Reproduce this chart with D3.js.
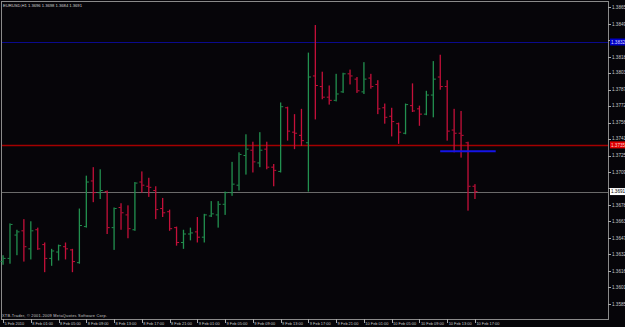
<!DOCTYPE html>
<html>
<head>
<meta charset="utf-8">
<script src="https://cdn.jsdelivr.net/npm/d3@7"></script>
<style>
body { margin: 0; background: #000; }
svg { display: block; }
text { font-family: Arial, "Liberation Sans", sans-serif; }
</style>
</head>
<body>
<script>
var symbol = "EURUSD,H1";

var open  = [1.3625,1.3628,1.3650,1.3654,1.3637,1.3655,1.3641,1.3628,1.3634,1.3639,1.3636,1.3624,1.3658,1.3701,1.3690,1.3691,1.3657,1.3676,1.3669,1.3655,1.3700,1.3696,1.3692,1.3675,1.3672,1.3657,1.3643,1.3651,1.3653,1.3648,1.3668,1.3669,1.3679,1.3690,1.3697,1.3725,1.3730,1.3718,1.3731,1.3714,1.3710,1.3770,1.3747,1.3744,1.3737,1.3800,1.3790,1.3780,1.3777,1.3785,1.3802,1.3797,1.3785,1.3798,1.3792,1.3770,1.3762,1.3755,1.3746,1.3772,1.3769,1.3764,1.3782,1.3799,1.3790,1.3749,1.3746,1.3737,1.3696];
var high  = [1.3631,1.3661,1.3655,1.3665,1.3663,1.3657,1.3643,1.3637,1.3641,1.3643,1.3637,1.3675,1.3706,1.3714,1.3712,1.3692,1.3676,1.3680,1.3678,1.3700,1.3710,1.3704,1.3696,1.3685,1.3674,1.3658,1.3655,1.3657,1.3667,1.3670,1.3682,1.3682,1.3691,1.3719,1.3728,1.3745,1.3738,1.3747,1.3738,1.3717,1.3775,1.3771,1.3764,1.3769,1.3822,1.3848,1.3804,1.3791,1.3802,1.3803,1.3806,1.3799,1.3813,1.3802,1.3796,1.3774,1.3770,1.3756,1.3774,1.3793,1.3772,1.3786,1.3814,1.3820,1.3796,1.3769,1.3767,1.3738,1.3698];
var low   = [1.3622,1.3623,1.3631,1.3625,1.3627,1.3636,1.3615,1.3621,1.3626,1.3627,1.3615,1.3623,1.3657,1.3681,1.3684,1.3651,1.3636,1.3655,1.3647,1.3654,1.3690,1.3686,1.3665,1.3667,1.3654,1.3640,1.3637,1.3645,1.3643,1.3643,1.3667,1.3657,1.3669,1.3687,1.3692,1.3707,1.3709,1.3714,1.3712,1.3696,1.3709,1.3739,1.3731,1.3734,1.3691,1.3759,1.3778,1.3773,1.3776,1.3784,1.3792,1.3784,1.3783,1.3788,1.3764,1.3755,1.3743,1.3736,1.3745,1.3766,1.3753,1.3763,1.3761,1.3787,1.3739,1.3728,1.3723,1.3673,1.3684];
var close = [1.3628,1.3660,1.3653,1.3639,1.3654,1.3637,1.3628,1.3635,1.3640,1.3637,1.3625,1.3659,1.3700,1.3690,1.3692,1.3657,1.3675,1.3671,1.3656,1.3699,1.3697,1.3695,1.3674,1.3671,1.3656,1.3643,1.3651,1.3652,1.3648,1.3669,1.3670,1.3679,1.3690,1.3698,1.3726,1.3731,1.3719,1.3730,1.3714,1.3711,1.3771,1.3748,1.3746,1.3739,1.3799,1.3791,1.3780,1.3777,1.3783,1.3802,1.3800,1.3786,1.3797,1.3790,1.3769,1.3761,1.3757,1.3747,1.3773,1.3767,1.3764,1.3782,1.3797,1.3790,1.3748,1.3746,1.3744,1.3696,1.3691];

var timeLabels = ["5 Feb 2010","8 Feb 01:00","8 Feb 05:00","8 Feb 09:00","8 Feb 13:00","8 Feb 17:00",
  "8 Feb 21:00","9 Feb 01:00","9 Feb 05:00","9 Feb 09:00","9 Feb 13:00","9 Feb 17:00",
  "9 Feb 21:00","10 Feb 01:00","10 Feb 05:00","10 Feb 09:00","10 Feb 13:00","10 Feb 17:00"];

var priceTicks = ["1.3865","1.3849","1.3834","1.3818","1.3803","1.3787","1.3772","1.3756","1.3741",
  "1.3725","1.3709","1.3694","1.3678","1.3663","1.3647","1.3632","1.3616","1.3601","1.3585"];

// horizontal levels
var levels = [1.3832, 1.3735];
var levelColors = ["#0a0a8c", "#a30000"];
var segPrice = 1.3729, segFrom = 63, segTo = 71;

var data = open.map(function(o, i) {
  return {i: i, o: o, h: high[i], l: low[i], c: close[i]};
});
var last = data[data.length - 1];

var W = 625, H = 327,
    plot = {left: 1, top: 1, right: 608, bottom: 319};

var svg = d3.select("body").append("svg")
    .attr("width", W)
    .attr("height", H)
    .style("background", "#060509");

var x = d3.scaleLinear().domain([0, 68]).range([3, 474.9]);
var y = d3.scaleLinear().domain([1.3585, 1.3865]).range([304, 7]);

// frame
svg.append("rect")
    .attr("x", plot.left + 0.5).attr("y", plot.top + 0.5)
    .attr("width", plot.right - plot.left).attr("height", plot.bottom - plot.top)
    .attr("fill", "none").attr("stroke", "#8a8a8a").attr("stroke-width", 1);

// level lines
svg.selectAll(".level")
    .data(levels)
    .enter().append("line")
    .attr("class", "level")
    .attr("x1", plot.left + 1).attr("x2", plot.right)
    .attr("y1", function(d) { return Math.round(y(d)) + 0.5; })
    .attr("y2", function(d) { return Math.round(y(d)) + 0.5; })
    .attr("stroke", function(d, i) { return levelColors[i]; })
    .attr("stroke-width", function(d, i) { return i == 1 ? 1.4 : 1; });

// bid line
svg.append("line")
    .attr("x1", plot.left + 1).attr("x2", plot.right)
    .attr("y1", Math.round(y(last.c)) + 0.5).attr("y2", Math.round(y(last.c)) + 0.5)
    .attr("stroke", "#6a6a6a").attr("stroke-width", 1);

// bars
var bar = svg.selectAll(".bar")
    .data(data)
    .enter().append("g")
    .attr("class", "bar")
    .attr("fill", function(d) { return d.c >= d.o ? "#22904f" : "#c4103a"; });

bar.append("rect")
    .attr("x", function(d) { return x(d.i) - 0.6; })
    .attr("y", function(d) { return y(d.h); })
    .attr("width", 1.3)
    .attr("height", function(d) { return Math.max(1, y(d.l) - y(d.h)); });

bar.append("rect")
    .attr("x", function(d) { return x(d.i) - 2.4; })
    .attr("y", function(d) { return y(d.o) - 0.5; })
    .attr("width", 2)
    .attr("height", 1);

bar.append("rect")
    .attr("x", function(d) { return x(d.i) + 0.6; })
    .attr("y", function(d) { return y(d.c) - 0.5; })
    .attr("width", 2)
    .attr("height", 1);

// short blue segment
svg.append("line")
    .attr("x1", x(segFrom)).attr("x2", x(segTo))
    .attr("y1", y(segPrice)).attr("y2", y(segPrice))
    .attr("stroke", "#1414e6").attr("stroke-width", 2);

// price labels for the level lines and the bid
var tags = [
  {p: levels[0], bg: "#0000c8", fg: "#d8d8ff"},
  {p: levels[1], bg: "#e00000", fg: "#ffd0d0"},
  {p: last.c, bg: "#ffffff", fg: "#000000"}
];

// price axis (labels hidden where a tag sits)
var shownTicks = priceTicks.filter(function(t) {
  return tags.every(function(g) { return Math.abs(y(+t) - y(g.p)) > 6; });
});
var yAxis = svg.append("g").attr("class", "axis axis--y");
yAxis.selectAll("line")
    .data(priceTicks)
    .enter().append("line")
    .attr("x1", plot.right).attr("x2", plot.right + 3)
    .attr("y1", function(d) { return Math.round(y(+d)) + 0.5; })
    .attr("y2", function(d) { return Math.round(y(+d)) + 0.5; })
    .attr("stroke", "#aaa");
yAxis.selectAll("text")
    .data(shownTicks)
    .enter().append("text")
    .attr("x", plot.right + 4)
    .attr("y", function(d) { return y(+d) + 1.7; })
    .attr("font-size", 4.6)
    .attr("fill", "#c8c8c8")
    .text(function(d) { return d; });

var tag = svg.selectAll(".tag")
    .data(tags)
    .enter().append("g")
    .attr("class", "tag");
tag.append("rect")
    .attr("x", plot.right + 2)
    .attr("y", function(d) { return y(d.p) - 3.5; })
    .attr("width", 15).attr("height", 7)
    .attr("fill", function(d) { return d.bg; });
tag.append("text")
    .attr("x", plot.right + 3)
    .attr("y", function(d) { return y(d.p) + 1.7; })
    .attr("font-size", 4.6)
    .attr("fill", function(d) { return d.fg; })
    .text(function(d) { return d.p.toFixed(4); });

// time axis
var xAxis = svg.append("g").attr("class", "axis axis--x");
xAxis.selectAll("line")
    .data(timeLabels)
    .enter().append("line")
    .attr("x1", function(d, i) { return Math.round(x(i * 4)) + 0.5; })
    .attr("x2", function(d, i) { return Math.round(x(i * 4)) + 0.5; })
    .attr("y1", plot.bottom).attr("y2", plot.bottom + 4)
    .attr("stroke", "#aaa");
xAxis.selectAll("text")
    .data(timeLabels)
    .enter().append("text")
    .attr("x", function(d, i) { return x(i * 4) + 1.5; })
    .attr("y", plot.bottom + 6)
    .attr("font-size", 3.9)
    .attr("fill", "#c8c8c8")
    .text(function(d) { return d; });

// header and footer
svg.append("text")
    .attr("x", 3).attr("y", 6.5)
    .attr("font-size", 4.2)
    .attr("fill", "#d0d0d0")
    .attr("textLength", 79)
    .text(symbol + " " + [last.o, last.h, last.l, last.c].map(function(v) { return v.toFixed(4); }).join(" "));

svg.append("text")
    .attr("x", 2).attr("y", 317)
    .attr("font-size", 3.9)
    .attr("fill", "#c8c8c8")
    .attr("textLength", 105)
    .text("XTB-Trader, \u00a9 2001-2009 MetaQuotes Software Corp.");
</script>
</body>
</html>
